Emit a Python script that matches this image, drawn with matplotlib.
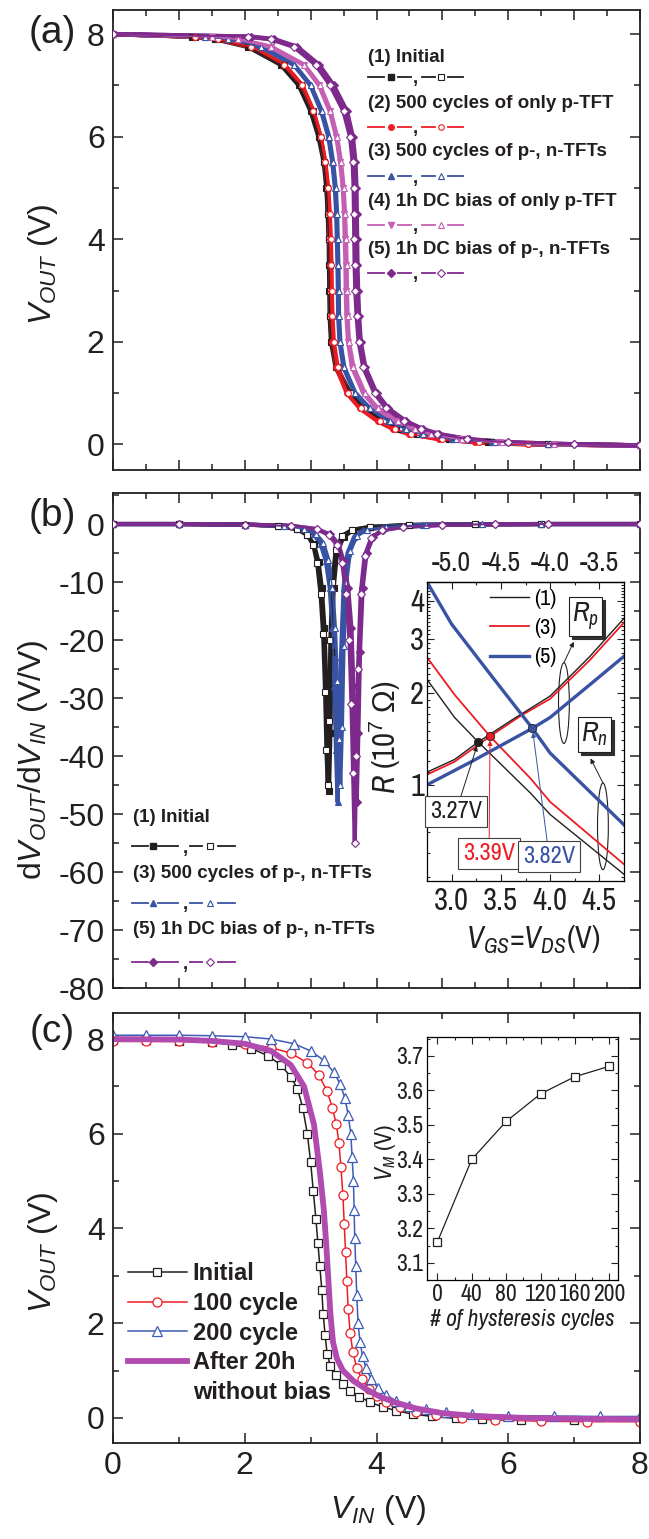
import matplotlib
matplotlib.use("Agg")
import matplotlib.pyplot as plt
import matplotlib.transforms as mtransforms
from matplotlib.patches import Ellipse
from matplotlib.lines import Line2D
from matplotlib.ticker import MultipleLocator, FixedLocator, NullFormatter

# ---------------- (a) VOUT vs VIN : VIN where each VOUT level is crossed ----------------
lv_a = [8.0, 7.95, 7.9, 7.75, 7.4, 7.0, 6.5, 6.0, 5.5, 5.0, 4.5, 4.0, 3.5, 3.0, 2.5, 2.0,
        1.5, 1.0, 0.7, 0.45, 0.3, 0.2, 0.1, 0.04, 0.0, -0.02]
a1_fill = [0, 1.2, 1.55, 2.05, 2.55, 2.82, 3.0, 3.12, 3.2, 3.24, 3.26, 3.275, 3.28, 3.285, 3.29, 3.31,
           3.38, 3.58, 3.8, 4.1, 4.35, 4.62, 5.1, 5.7, 6.6, 8.0]
a1_open = [0, 1.25, 1.6, 2.1, 2.6, 2.86, 3.03, 3.14, 3.21, 3.245, 3.265, 3.28, 3.29, 3.295, 3.3, 3.32,
           3.4, 3.6, 3.83, 4.12, 4.38, 4.65, 5.15, 5.75, 6.6, 8.0]
a2_fill = [0, 1.25, 1.6, 2.1, 2.6, 2.87, 3.04, 3.15, 3.22, 3.26, 3.28, 3.29, 3.3, 3.305, 3.31, 3.33,
           3.39, 3.55, 3.75, 4.02, 4.25, 4.5, 4.95, 5.5, 6.3, 8.0]
a2_open = [0, 1.25, 1.6, 2.1, 2.6, 2.87, 3.04, 3.15, 3.22, 3.265, 3.29, 3.305, 3.315, 3.32, 3.33, 3.35,
           3.41, 3.57, 3.77, 4.05, 4.28, 4.52, 5.0, 5.55, 6.3, 8.0]
a3_fill = [0, 1.4, 1.75, 2.25, 2.75, 3.0, 3.16, 3.27, 3.33, 3.37, 3.39, 3.4, 3.41, 3.415, 3.42, 3.44,
           3.5, 3.67, 3.88, 4.17, 4.42, 4.68, 5.15, 5.75, 6.6, 8.0]
a3_open = [0, 1.4, 1.75, 2.25, 2.75, 3.0, 3.17, 3.28, 3.34, 3.38, 3.4, 3.41, 3.42, 3.425, 3.43, 3.45,
           3.51, 3.68, 3.9, 4.2, 4.45, 4.7, 5.2, 5.8, 6.6, 8.0]
a4_fill = [0, 1.5, 1.9, 2.4, 2.9, 3.13, 3.29, 3.39, 3.45, 3.49, 3.51, 3.52, 3.53, 3.535, 3.545, 3.57,
           3.63, 3.8, 4.0, 4.3, 4.55, 4.8, 5.25, 5.85, 6.7, 8.0]
a4_open = [0, 1.5, 1.9, 2.4, 2.9, 3.14, 3.3, 3.4, 3.46, 3.5, 3.52, 3.535, 3.545, 3.55, 3.56, 3.58,
           3.65, 3.82, 4.02, 4.33, 4.58, 4.82, 5.3, 5.9, 6.7, 8.0]
a5_fill = [0, 2.1, 2.45, 2.8, 3.13, 3.35, 3.55, 3.64, 3.68, 3.695, 3.7, 3.705, 3.71, 3.72, 3.735, 3.76,
           3.83, 4.0, 4.18, 4.45, 4.7, 4.95, 5.4, 6.0, 7.0, 8.0]
a5_open = [0, 2.05, 2.4, 2.75, 3.08, 3.3, 3.5, 3.6, 3.64, 3.655, 3.66, 3.665, 3.67, 3.68, 3.7, 3.73,
           3.8, 3.97, 4.15, 4.42, 4.67, 4.92, 5.38, 6.0, 7.0, 8.0]
labels_a = ["(1) Initial", "(2) 500 cycles of only p-TFT", "(3) 500 cycles of p-, n-TFTs",
            "(4) 1h DC bias of only p-TFT", "(5) 1h DC bias of p-, n-TFTs"]

# ---------------- (b) dVOUT/dVIN ----------------
b1f_x = [0, 1.0, 2.0, 2.5, 2.8, 2.95, 3.05, 3.12, 3.17, 3.21, 3.24, 3.26, 3.28, 3.3, 3.32, 3.35, 3.4, 3.5, 3.65, 3.9, 4.5, 5.5, 6.5, 8.0]
b1f_y = [0, 0, -0.1, -0.3, -0.9, -1.8, -3.5, -6.5, -11, -18, -28, -38, -46, -36, -22, -11, -5, -2.2, -1.0, -0.5, -0.15, -0.05, 0, 0]
b1o_x = [0, 1.0, 2.0, 2.5, 2.8, 2.95, 3.04, 3.1, 3.15, 3.19, 3.22, 3.24, 3.26, 3.28, 3.3, 3.33, 3.38, 3.48, 3.63, 3.9, 4.5, 5.5, 6.5, 8.0]
b1o_y = [0, 0, -0.1, -0.3, -0.9, -1.9, -3.6, -6.8, -12, -19, -29, -39, -45, -34, -20, -10, -4.5, -2.0, -1.0, -0.5, -0.15, -0.05, 0, 0]
b3f_x = [0, 1.0, 2.0, 2.6, 2.9, 3.05, 3.15, 3.23, 3.29, 3.33, 3.36, 3.385, 3.41, 3.435, 3.46, 3.5, 3.56, 3.66, 3.8, 4.1, 4.7, 5.6, 6.5, 8.0]
b3f_y = [0, 0, -0.1, -0.3, -0.9, -1.8, -3.4, -6.3, -11, -18, -28, -39, -48, -37, -23, -11, -5, -2.2, -1.0, -0.5, -0.15, -0.05, 0, 0]
b3o_x = [0, 1.0, 2.0, 2.6, 2.9, 3.08, 3.19, 3.27, 3.33, 3.37, 3.4, 3.425, 3.45, 3.475, 3.5, 3.54, 3.6, 3.7, 3.85, 4.15, 4.75, 5.6, 6.5, 8.0]
b3o_y = [0, 0, -0.1, -0.3, -0.8, -1.7, -3.3, -6.2, -11, -18, -27, -37, -45, -35, -21, -10, -4.6, -2.0, -1.0, -0.5, -0.15, -0.05, 0, 0]
b5f_x = [0, 1.0, 2.0, 2.7, 3.1, 3.3, 3.42, 3.5, 3.57, 3.62, 3.65, 3.675, 3.7, 3.725, 3.75, 3.79, 3.85, 3.95, 4.1, 4.4, 5.0, 5.8, 6.6, 8.0]
b5f_y = [0, 0, -0.1, -0.3, -0.9, -1.8, -3.4, -6.3, -11, -18, -28, -38, -48, -36, -22, -11, -5, -2.2, -1.0, -0.5, -0.15, -0.05, 0, 0]
b5o_x = [0, 1.0, 2.0, 2.7, 3.1, 3.28, 3.4, 3.48, 3.54, 3.59, 3.62, 3.645, 3.67, 3.695, 3.72, 3.76, 3.82, 3.92, 4.08, 4.4, 5.0, 5.8, 6.6, 8.0]
b5o_y = [0, 0, -0.1, -0.3, -0.9, -1.9, -3.6, -6.8, -12, -20, -31, -43, -55, -40, -25, -12, -5.5, -2.4, -1.1, -0.5, -0.15, -0.05, 0, 0]
labels_b = ["(1) Initial", "(3) 500 cycles of p-, n-TFTs", "(5) 1h DC bias of p-, n-TFTs"]

# inset (b): resistance vs V_GS = V_DS (10^7 ohm)
rp1_v = [2.75, 3.03, 3.27, 3.6, 4.0, 4.4, 4.75]
rp1 = [1.10, 1.21, 1.38, 1.62, 1.95, 2.62, 3.5]
rn1_v = [2.75, 3.03, 3.27, 3.8, 4.0, 4.75]
rn1 = [2.21, 1.66, 1.38, 0.94, 0.80, 0.51]
rp3_v = [2.75, 3.03, 3.39, 3.7, 4.0, 4.4, 4.75]
rp3 = [1.08, 1.19, 1.44, 1.68, 1.91, 2.55, 3.39]
rn3_v = [2.75, 3.03, 3.39, 3.8, 4.0, 4.75]
rn3 = [2.61, 1.97, 1.44, 1.05, 0.88, 0.55]
rp5_v = [2.75, 3.2, 3.82, 4.0, 4.4, 4.75]
rp5 = [1.0, 1.19, 1.53, 1.66, 2.12, 2.63]
rn5_v = [2.75, 3.0, 3.4, 3.82, 4.0, 4.75]
rn5 = [4.6, 3.35, 2.28, 1.53, 1.27, 0.74]
vm_v = [3.27, 3.39, 3.82]
vm_r = [1.38, 1.44, 1.53]
vm_txt = ["3.27V", "3.39V", "3.82V"]

# ---------------- (c) VOUT vs VIN after cycling ----------------
c0_x = [0, 0.5, 1.0, 1.5, 1.8, 2.1, 2.35, 2.55, 2.7, 2.8, 2.88, 2.95, 3.0, 3.04, 3.08, 3.11, 3.14, 3.17,
        3.19, 3.22, 3.25, 3.3, 3.38, 3.49, 3.6, 3.74, 3.9, 4.1, 4.3, 4.55, 4.85, 5.2, 5.6, 6.2, 7.0, 8.0]
c0_y = [7.97, 7.97, 7.96, 7.93, 7.88, 7.8, 7.65, 7.45, 7.2, 6.95, 6.55, 6.0, 5.4, 4.8, 4.2, 3.7, 3.2, 2.7,
        2.2, 1.75, 1.35, 1.1, 0.9, 0.72, 0.57, 0.45, 0.33, 0.23, 0.15, 0.08, 0.03, -0.01, -0.03, -0.05, -0.05, -0.05]
c1_x = [0, 0.5, 1.0, 1.5, 2.0, 2.4, 2.7, 2.95, 3.12, 3.25, 3.33, 3.39, 3.43, 3.46, 3.49, 3.51, 3.53,
        3.55, 3.57, 3.6, 3.64, 3.7, 3.78, 3.88, 4.0, 4.15, 4.35, 4.6, 4.9, 5.3, 5.8, 6.5, 7.2, 8.0]
c1_y = [7.95, 7.95, 7.95, 7.94, 7.9, 7.82, 7.7, 7.5, 7.25, 6.9, 6.55, 6.2, 5.8, 5.3, 4.7, 4.1, 3.5,
        2.9, 2.3, 1.8, 1.4, 1.05, 0.82, 0.62, 0.47, 0.34, 0.22, 0.13, 0.06, 0.0, -0.04, -0.07, -0.08, -0.08]
c2_x = [0, 0.5, 1.0, 1.5, 2.0, 2.4, 2.75, 3.0, 3.2, 3.35, 3.45, 3.52, 3.57, 3.61, 3.63, 3.65, 3.66, 3.67,
        3.685, 3.7, 3.72, 3.75, 3.79, 3.84, 3.92, 4.02, 4.15, 4.3, 4.5, 4.75, 5.05, 5.45, 6.0, 6.7, 7.4, 8.0]
c2_y = [8.08, 8.08, 8.08, 8.07, 8.05, 8.0, 7.9, 7.75, 7.55, 7.3, 7.05, 6.75, 6.4, 6.0, 5.5, 5.0, 4.4, 3.8,
        3.2, 2.6, 2.0, 1.6, 1.3, 1.05, 0.82, 0.63, 0.48, 0.36, 0.26, 0.18, 0.12, 0.08, 0.05, 0.04, 0.03, 0.03]
c3_x = [0, 1.0, 1.5, 2.0, 2.4, 2.7, 2.9, 3.05, 3.14, 3.2, 3.24, 3.27, 3.3, 3.34, 3.4, 3.49, 3.65,
        3.85, 4.05, 4.3, 4.6, 5.0, 5.5, 6.2, 7.0, 8.0]
c3_y = [8.0, 7.99, 7.96, 7.9, 7.75, 7.45, 7.0, 6.2, 5.2, 4.4, 3.6, 2.9, 2.2, 1.6, 1.25, 1.0, 0.78,
        0.6, 0.45, 0.32, 0.2, 0.1, 0.04, 0.0, -0.02, -0.03]
labels_c = ["Initial", "100 cycle", "200 cycle", "After 20h", "without bias"]

# inset (c): switching threshold vs number of cycles
cycles = [0, 40, 80, 120, 160, 200]
vm_cyc = [3.16, 3.40, 3.51, 3.59, 3.64, 3.67]

# ---------------- style ----------------
NARROW = ['Archivo Narrow', 'Liberation Sans', 'DejaVu Sans']
plt.rcParams['font.family'] = ['Liberation Sans', 'DejaVu Sans']
plt.rcParams['mathtext.fontset'] = 'custom'
plt.rcParams['mathtext.rm'] = 'Liberation Sans'
plt.rcParams['mathtext.it'] = 'Liberation Sans:italic'
plt.rcParams['mathtext.bf'] = 'Liberation Sans:bold'
plt.rcParams['mathtext.sf'] = 'Archivo Narrow:italic'
plt.rcParams['axes.unicode_minus'] = False

K = '#231f20'
RED = '#ed1c24'
BLUE = '#3953a4'
PINK = '#c55fb3'
PURP = '#7e2a8c'
MAG = '#b24bb0'
BLUE_C = '#3d5bb5'

W, H = 649, 1539


def rect(b):
    l, t, r, bt = b
    return [l / W, 1 - bt / H, (r - l) / W, (bt - t) / H]


A = (113, 10, 640, 470)
B = (113, 493, 640, 988)
C = (113, 1013, 640, 1443)
IB = (427, 582, 624, 881)
IC = (427, 1037, 618, 1280)

fig = plt.figure(figsize=(6.49, 15.39), dpi=100)
axa = fig.add_axes(rect(A))
axb = fig.add_axes(rect(B))
axc = fig.add_axes(rect(C))


def main_style(ax, xmaj, xmin, ymaj, ymin):
    ax.xaxis.set_major_locator(MultipleLocator(xmaj))
    ax.xaxis.set_minor_locator(MultipleLocator(xmin))
    ax.yaxis.set_major_locator(MultipleLocator(ymaj))
    ax.yaxis.set_minor_locator(MultipleLocator(ymin))
    ax.tick_params(which='both', direction='in', top=True, right=True, width=1.1,
                   labelsize=23, pad=6, colors=K)
    ax.tick_params(which='major', length=7)
    ax.tick_params(which='minor', length=4)
    for sp in ax.spines.values():
        sp.set_linewidth(1.3)
        sp.set_color(K)


# ---------------- panel (a) ----------------
series_a = [(a1_fill, K, 's', True), (a1_open, K, 's', False),
            (a2_fill, RED, 'o', True), (a2_open, RED, 'o', False),
            (a3_fill, BLUE, '^', True), (a3_open, BLUE, '^', False),
            (a4_fill, PINK, 'v', True), (a4_open, PINK, '^', False),
            (a5_fill, PURP, 'D', True), (a5_open, PURP, 'D', False)]
for xs, col, mk, filled in series_a:
    axa.plot(xs, lv_a, color=col, lw=3.2, zorder=2)
    axa.plot(xs, lv_a, color=col, lw=1.0, marker=mk, ms=4.2 if mk != 'D' else 3.6,
             mfc=col if filled else 'white', mec=col, mew=0.8, zorder=3)
axa.set_xlim(0, 8)
axa.set_ylim(-0.5, 8.47)
main_style(axa, 1, 0.5, 2, 1)
axa.tick_params(labelbottom=False)


def draw_key(ax, box, text_x, text_ys, samp_ys, segs, labels, styles, fs, ms):
    l, t, r, bt = box
    fx = lambda p: (p - l) / (r - l)
    fy = lambda p: (bt - p) / (bt - t)
    s1, m1, s2, cm, s3, m2, s4 = segs
    for lab, ty, sy, (col, mk1, mk2) in zip(labels, text_ys, samp_ys, styles):
        ax.text(fx(text_x), fy(ty), lab, transform=ax.transAxes, fontsize=fs,
                fontweight='bold', color=K, va='center', ha='left')
        for sg in (s1, s2, s3, s4):
            ax.plot([fx(sg[0]), fx(sg[1])], [fy(sy), fy(sy)], color=col, lw=1.3,
                    transform=ax.transAxes, clip_on=False)
        ax.plot([fx(m1)], [fy(sy)], marker=mk1, color=col, ms=ms, mec=col,
                transform=ax.transAxes, clip_on=False)
        ax.plot([fx(m2)], [fy(sy)], marker=mk2, color=col, ms=ms, mfc='white', mec=col,
                mew=0.8, transform=ax.transAxes, clip_on=False)
        ax.text(fx(cm), fy(sy + 2), ',', transform=ax.transAxes, fontsize=fs,
                fontweight='bold', color=K, va='center', ha='center')


draw_key(axa, A, 368, [57, 103, 152, 202, 250], [77, 127, 176, 225, 273],
         [(368, 384), 391, (398, 411), 415, (422, 435), 441, (448, 463)], labels_a,
         [(K, 's', 's'), (RED, 'o', 'o'), (BLUE, '^', '^'), (PINK, 'v', '^'), (PURP, 'D', 'D')],
         13.5, 4)

# ---------------- panel (b) ----------------
series_b = [(b1f_x, b1f_y, K, 's', True), (b1o_x, b1o_y, K, 's', False),
            (b3f_x, b3f_y, BLUE, '^', True), (b3o_x, b3o_y, BLUE, '^', False),
            (b5f_x, b5f_y, PURP, 'D', True), (b5o_x, b5o_y, PURP, 'D', False)]
for xs, ys, col, mk, filled in series_b:
    axb.plot(xs, ys, color=col, lw=3.0, zorder=2)
    axb.plot(xs, ys, color=col, lw=1.0, marker=mk, ms=4.2 if mk != 'D' else 3.6,
             mfc=col if filled else 'white', mec=col, mew=0.8, zorder=3)
axb.set_xlim(0, 8)
axb.set_ylim(-80, 5.35)
main_style(axb, 1, 0.5, 10, 5)
axb.tick_params(labelbottom=False)

draw_key(axb, B, 133, [817, 873, 930], [846, 903, 962],
         [(132, 148), 153, (158, 178), 185, (190, 202), 210, (218, 235)], labels_b,
         [(K, 's', 's'), (BLUE, '^', '^'), (PURP, 'D', 'D')], 13.5, 4)

# inset (b)
axi = fig.add_axes(rect(IB))
axi.set_yscale('log')
axi.plot(rp3_v, rp3, color=RED, lw=1.3)
axi.plot(rn3_v, rn3, color=RED, lw=1.3)
axi.plot(rp1_v, rp1, color=K, lw=1.0)
axi.plot(rn1_v, rn1, color=K, lw=1.0)
axi.plot(rp5_v, rp5, color=BLUE, lw=2.4)
axi.plot(rn5_v, rn5, color=BLUE, lw=2.4)
for v, rr, col in zip(vm_v, vm_r, [K, RED, BLUE]):
    axi.plot([v], [rr], 'o', ms=6, mfc=col, mec='#202020', mew=0.6, zorder=5)
axi.set_xlim(2.75, 4.75)
axi.set_ylim(0.485, 4.6)
axi.xaxis.set_major_locator(MultipleLocator(0.5))
axi.xaxis.set_minor_locator(MultipleLocator(0.25))
axi.yaxis.set_major_locator(FixedLocator([1, 2, 3, 4]))
axi.set_yticklabels(['1', '2', '3', '4'])
axi.yaxis.set_minor_locator(FixedLocator([0.5 + 0.1 * i for i in range(42)]))
axi.yaxis.set_minor_formatter(NullFormatter())
axi.tick_params(which='both', direction='in', top=False, right=True, width=0.8,
                labelsize=22, labelfontfamily=NARROW, colors=K)
axi.tick_params(which='major', length=5, pad=4)
axi.tick_params(which='minor', length=2.5)
axi.tick_params(axis='y', which='major', pad=2)
secx = axi.secondary_xaxis('top', functions=(lambda v: v - 8, lambda v: v + 8))
secx.set_xticks([-5.0, -4.5, -4.0, -3.5], labels=['-5.0', '-4.5', '-4.0', '-3.5'])
secx.xaxis.set_minor_locator(MultipleLocator(0.25))
secx.tick_params(which='both', direction='in', width=0.8, labelsize=20,
                 labelfontfamily=NARROW, colors=K, pad=4)
secx.tick_params(which='major', length=5)
secx.tick_params(which='minor', length=2.5)
for sp in list(axi.spines.values()) + list(secx.spines.values()):
    sp.set_linewidth(0.9)

leg = axi.legend(handles=[Line2D([], [], color=K, lw=1.0), Line2D([], [], color=RED, lw=1.3),
                          Line2D([], [], color=BLUE, lw=2.4)],
                 labels=['(1)', '(3)', '(5)'], loc='upper left', bbox_to_anchor=(0.31, 0.985),
                 frameon=False, handlelength=1.75, handletextpad=0.2, labelspacing=0.42,
                 borderaxespad=0, borderpad=0.1, prop={'family': NARROW, 'size': 16})
leg.set_zorder(9)


def shadow_box(ax, x, y, s, fs, col):
    sh = mtransforms.offset_copy(ax.transAxes, fig=fig, x=3, y=-3, units='dots')
    ax.text(x, y, s, transform=sh, fontsize=fs, ha='center', va='center', color='none',
            bbox=dict(boxstyle='square,pad=0.12', fc='#303030', ec='#303030', lw=0.8), zorder=6)
    ax.text(x, y, s, transform=ax.transAxes, fontsize=fs, ha='center', va='center', color=col,
            bbox=dict(boxstyle='square,pad=0.12', fc='white', ec=K, lw=0.8), zorder=7)


shadow_box(axi, 0.805, 0.885, r'$\mathsf{R_p}$', 20, K)
shadow_box(axi, 0.85, 0.49, r'$\mathsf{R_n}$', 20, K)
axi.add_patch(Ellipse((0.695, 0.595), 0.055, 0.27, transform=axi.transAxes, fill=False, ec=K, lw=0.8))
axi.add_patch(Ellipse((0.893, 0.183), 0.055, 0.29, transform=axi.transAxes, fill=False, ec=K, lw=0.8))
axi.annotate('', xy=(0.745, 0.80), xytext=(0.695, 0.73), xycoords='axes fraction',
             arrowprops=dict(arrowstyle='-|>', color=K, lw=0.7, mutation_scale=7, shrinkA=0, shrinkB=0))
axi.annotate('', xy=(0.83, 0.41), xytext=(0.893, 0.328), xycoords='axes fraction',
             arrowprops=dict(arrowstyle='-|>', color=K, lw=0.7, mutation_scale=7, shrinkA=0, shrinkB=0))
for v, rr, s, col, pos in zip(vm_v, vm_r, vm_txt, [K, RED, BLUE],
                              [(0.147, 0.232), (0.315, 0.092), (0.62, 0.082)]):
    axi.annotate(s, xy=(v, rr), xycoords='data', xytext=pos, textcoords='axes fraction',
                 ha='center', va='center', fontsize=17.5, family=NARROW, color=col,
                 bbox=dict(boxstyle='square,pad=0.2', fc='white', ec='#404040', lw=0.8),
                 arrowprops=dict(arrowstyle='-|>', color=col, lw=0.7, mutation_scale=7,
                                 shrinkA=0, shrinkB=3), zorder=8)

fig.text(385 / W, 1 - 737 / H, r'$\mathsf{R}$ (10$^{7}$ $\Omega$)', rotation=90, ha='center', va='center',
         fontsize=22, family=NARROW, color=K)
fig.text(533 / W, 1 - 940 / H, r'$\mathsf{V_{GS}}$=$\mathsf{V_{DS}}$(V)', ha='center', va='center',
         fontsize=22, family=NARROW, color=K)

# ---------------- panel (c) ----------------
axc.plot(c0_x, c0_y, color=K, lw=1.1, marker='s', ms=6, mfc='white', mec=K, mew=0.9, label=labels_c[0])
axc.plot(c1_x, c1_y, color=RED, lw=1.1, marker='o', ms=6.5, mfc='white', mec=RED, mew=0.9, label=labels_c[1])
axc.plot(c2_x, c2_y, color=BLUE_C, lw=1.1, marker='^', ms=7, mfc='white', mec=BLUE_C, mew=0.9, label=labels_c[2])
axc.plot(c3_x, c3_y, color=MAG, lw=4.2, label=labels_c[3])
axc.set_xlim(0, 8)
axc.set_ylim(-0.53, 8.55)
main_style(axc, 2, 1, 2, 1)
h, l = axc.get_legend_handles_labels()
h.append(Line2D([], [], color='none'))
l.append(labels_c[4])
axc.legend(h, l, loc='upper left', bbox_to_anchor=(0.028, 0.42), frameon=False,
           handlelength=2.5, handletextpad=0.25, labelspacing=0.28, borderaxespad=0,
           borderpad=0, prop={'size': 17, 'weight': 'bold'}, labelcolor=K)

# inset (c)
axj = fig.add_axes(rect(IC))
axj.plot(cycles, vm_cyc, color=K, lw=0.9, marker='s', ms=6, mfc='white', mec=K, mew=0.9)
axj.set_xlim(-12, 210)
axj.set_ylim(3.05, 3.755)
axj.xaxis.set_major_locator(MultipleLocator(40))
axj.xaxis.set_minor_locator(MultipleLocator(20))
axj.yaxis.set_major_locator(MultipleLocator(0.1))
axj.yaxis.set_minor_locator(MultipleLocator(0.05))
axj.tick_params(which='both', direction='in', top=True, right=True, width=0.8,
                labelsize=17, labelfontfamily=NARROW, colors=K)
axj.tick_params(which='major', length=5, pad=3)
axj.tick_params(which='minor', length=2.5)
for sp in axj.spines.values():
    sp.set_linewidth(0.9)
fig.text(386 / W, 1 - 1152 / H, r'$\mathsf{V_M}$ (V)', rotation=90, ha='center', va='center',
         fontsize=17, family=NARROW, color=K)
fig.text(522 / W, 1 - 1320 / H, '# of hysteresis cycles', ha='center', va='center',
         fontsize=17, family=NARROW, style='italic', color=K)

# ---------------- outer labels ----------------
fig.text(52 / W, 1 - 33 / H, '(a)', fontsize=28, ha='center', va='center', color=K)
fig.text(52 / W, 1 - 516 / H, '(b)', fontsize=28, ha='center', va='center', color=K)
fig.text(52 / W, 1 - 1032 / H, '(c)', fontsize=28, ha='center', va='center', color=K)
fig.text(43 / W, 1 - 264 / H, r'$V_{OUT}$ (V)', rotation=90, fontsize=23, ha='center', va='center', color=K)
fig.text(33 / W, 1 - 760 / H, r'd$V_{OUT}$/d$V_{IN}$ (V/V)', rotation=90, fontsize=23, ha='center', va='center', color=K)
fig.text(43 / W, 1 - 1252 / H, r'$V_{OUT}$ (V)', rotation=90, fontsize=23, ha='center', va='center', color=K)
fig.text(378 / W, 1 - 1510 / H, r'$V_{IN}$ (V)', fontsize=23, ha='center', va='center', color=K)

fig.savefig('out.png', dpi=100)
